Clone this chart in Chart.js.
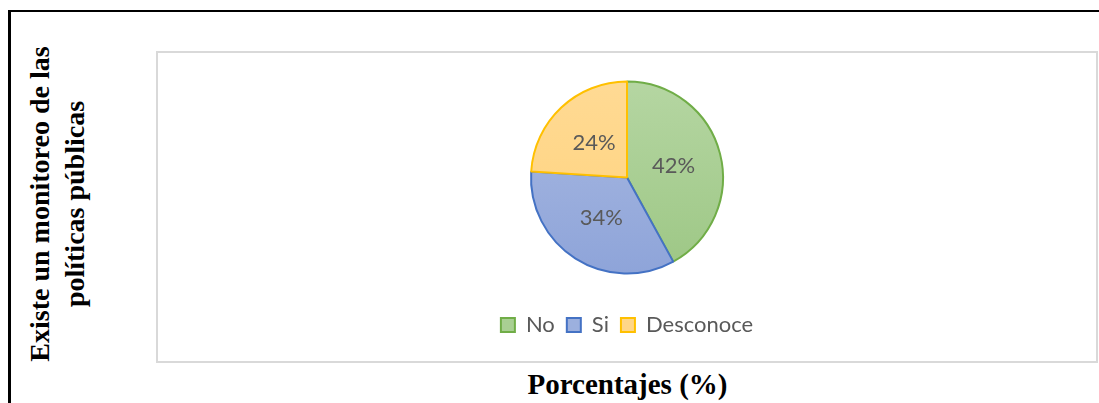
<!DOCTYPE html>
<html>
<head>
<meta charset="utf-8">
<script src="https://cdn.jsdelivr.net/npm/chart.js@4"></script>
<style>
  body { margin: 0; width: 1099px; height: 403px; background: #fff; position: relative; overflow: hidden; }
  #frame { position: absolute; left: 8px; top: 10px; width: 1095px; height: 400px;
           border-top: 2px solid #000; border-left: 3px solid #000; }
  #ytitle { position: absolute; left: 57px; top: 204px; width: 420px; height: 70px;
            margin-left: -210px; margin-top: -35px; transform: rotate(-90deg);
            font: bold 28px "Liberation Serif", "Times New Roman", serif; line-height: 35px;
            text-align: center; color: #000; }
  #box { position: absolute; left: 156px; top: 51px; width: 942px; height: 312px;
         box-sizing: border-box; border: 2px solid #d9d9d9; background: #fff; }
  #box canvas { display: block; }
  #xtitle { position: absolute; left: 477px; top: 368px; width: 301px; text-align: center;
            font: bold 29px "Liberation Serif", "Times New Roman", serif; line-height: 33px;
            white-space: nowrap; color: #000; }
</style>
</head>
<body>
<div id="frame"></div>
<div id="ytitle">Existe un monitoreo de las<br>políticas públicas</div>
<div id="box"><canvas id="pie" width="938" height="308"></canvas></div>
<div id="xtitle">Porcentajes (%)</div>
<script>
const categories = ["No", "Si", "Desconoce"];
const percentages = [42, 34, 24];
const pieLabels = ["42%", "34%", "24%"];

const lineColors = ["#70ad47", "#4472c4", "#ffc000"];
const topColors = ["#b5d6a2", "#aabae2", "#ffda94"];
const bottomColors = ["#9dc785", "#8ea4d9", "#ffd27b"];
const flatColors = ["#a9cf93", "#9cb0de", "#ffd688"];

function sliceFill(context) {
  const chart = context.chart;
  const area = chart.chartArea;
  const i = context.dataIndex;
  if (!area) return flatColors[i];
  const cy = (area.top + area.bottom) / 2;
  const g = chart.ctx.createLinearGradient(0, cy - 97, 0, cy + 97);
  g.addColorStop(0, topColors[i]);
  g.addColorStop(1, bottomColors[i]);
  return g;
}

// percentage text in the middle of each slice
const sliceLabels = {
  id: "sliceLabels",
  afterDatasetsDraw(chart) {
    const ctx = chart.ctx;
    const meta = chart.getDatasetMeta(0);
    ctx.save();
    ctx.font = "22px Lato, 'Noto Sans', sans-serif";
    ctx.fillStyle = "#595959";
    ctx.textAlign = "center";
    ctx.textBaseline = "middle";
    meta.data.forEach((arc, i) => {
      const p = arc.tooltipPosition();
      ctx.fillText(pieLabels[i], p.x, p.y);
    });
    ctx.restore();
  }
};

new Chart(document.getElementById("pie"), {
  type: "pie",
  data: {
    labels: categories,
    datasets: [{
      data: percentages,
      backgroundColor: sliceFill,
      borderColor: lineColors,
      borderWidth: 2
    }]
  },
  options: {
    responsive: false,
    animation: false,
    radius: 96,
    layout: { padding: { top: 0, bottom: 15 } },
    plugins: {
      tooltip: { enabled: false },
      legend: {
        position: "bottom",
        labels: {
          font: { family: "Lato, 'Noto Sans', sans-serif", size: 22 },
          color: "#595959",
          boxWidth: 14,
          boxHeight: 14,
          padding: 12,
          generateLabels(chart) {
            return categories.map((c, i) => ({
              text: c,
              fillStyle: flatColors[i],
              strokeStyle: lineColors[i],
              lineWidth: 2,
              fontColor: "#595959",
              index: i
            }));
          }
        }
      }
    }
  },
  plugins: [sliceLabels]
});
</script>
</body>
</html>
